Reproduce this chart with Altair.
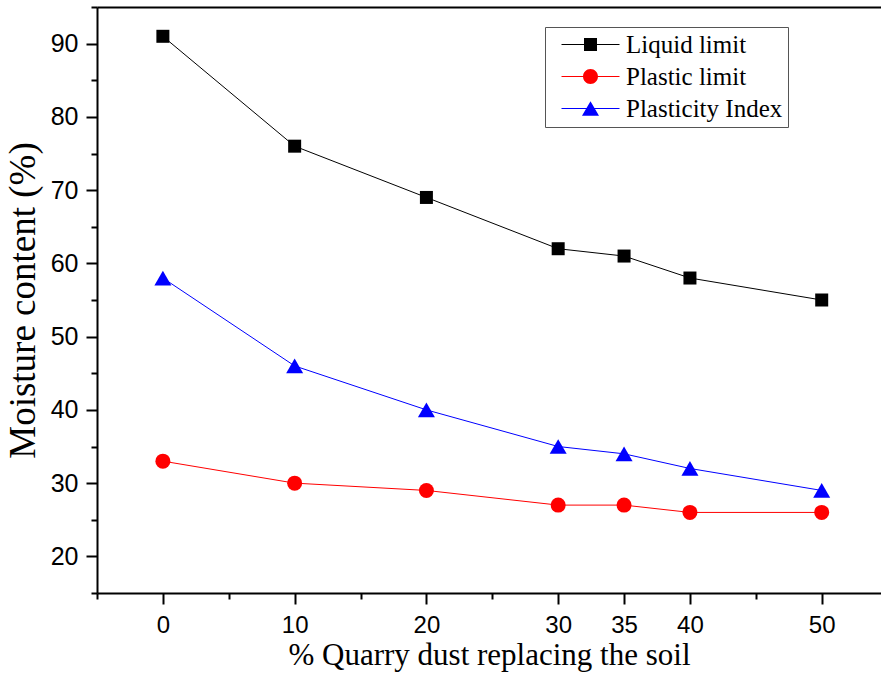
import altair as alt
import pandas as pd

# Percentage of quarry dust replacing the soil
dust = [0, 10, 20, 30, 35, 40, 50]

# Atterberg limits (%)
liquid_limit = [91, 76, 69, 62, 61, 58, 55]
plastic_limit = [33, 30, 29, 27, 27, 26, 26]
plasticity_index = [58, 46, 40, 35, 34, 32, 29]

series_names = ["Liquid limit", "Plastic limit", "Plasticity Index"]
series_colors = ["#000000", "#ff0000", "#0000ff"]
series_shapes = ["square", "circle", "triangle-up"]
series_sizes = [169, 225, 289]

x_labels = [0, 10, 20, 30, 35, 40, 50]
x_ticks = [-5, 0, 5, 10, 15, 20, 25, 30, 35, 40, 45, 50]
y_ticks = list(range(15, 100, 5))

rows = []
for name, vals in zip(series_names, [liquid_limit, plastic_limit, plasticity_index]):
    for d, v in zip(dust, vals):
        rows.append({"dust": d, "value": v, "series": name})
df = pd.DataFrame(rows)

SANS = "Liberation Sans"
SERIF = "Liberation Serif"

major_x = "indexof([" + ",".join(str(v) for v in x_labels) + "], datum.value) >= 0"

x_bottom = alt.Axis(
    orient="bottom",
    values=x_ticks,
    labelExpr=f"{major_x} ? datum.label : ''",
    tickSize={"condition": {"test": major_x, "value": 11}, "value": 6},
    tickWidth=2, tickColor="black",
    domainWidth=2, domainColor="black",
    labelFont=SANS, labelFontSize=24, labelColor="black", labelPadding=9,
    labelFlush=False, labelOverlap=False,
    title="% Quarry dust replacing the soil",
    titleFont=SERIF, titleFontSize=31, titleFontWeight="normal",
    titleColor="black", titlePadding=3,
    grid=False,
)
x_top = alt.Axis(
    orient="top", ticks=False, labels=False, title=None, grid=False,
    domainWidth=2, domainColor="black",
)
y_axis = alt.Axis(
    orient="left",
    values=y_ticks,
    labelExpr="datum.value % 10 === 0 ? datum.label : ''",
    tickSize={"condition": {"test": "datum.value % 10 === 0", "value": 11}, "value": 6},
    tickWidth=2, tickColor="black",
    domainWidth=2, domainColor="black",
    labelFont=SANS, labelFontSize=25, labelColor="black", labelPadding=8,
    labelFlush=False, labelOverlap=False,
    title="Moisture content (%)",
    titleFont=SERIF, titleFontSize=37, titleFontWeight="normal",
    titleColor="black", titlePadding=8,
    grid=False,
)

x_scale = alt.Scale(domain=[-5, 54.5], nice=False, zero=False)
y_scale = alt.Scale(domain=[15, 95], nice=False, zero=False)

base = alt.Chart(df)

layers = []
for i, (name, color, shape, size) in enumerate(
    zip(series_names, series_colors, series_shapes, series_sizes)
):
    subset = base.transform_filter(alt.datum.series == name)
    # connecting line; the first one carries the bottom axis
    layers.append(
        subset.mark_line(strokeWidth=1, color=color).encode(
            x=alt.X("dust:Q", scale=x_scale, axis=x_bottom if i == 0 else None),
            y=alt.Y("value:Q", scale=y_scale, axis=y_axis),
        )
    )
    # markers; the first one carries the top frame line
    layers.append(
        subset.mark_point(shape=shape, size=size, filled=True, opacity=1, color=color).encode(
            x=alt.X("dust:Q", scale=x_scale, axis=x_top if i == 0 else None),
            y=alt.Y("value:Q", scale=y_scale, axis=y_axis),
        )
    )

# Legend glyphs: a short line segment with the series marker in its middle
line_seg = "M-4.46,-0.08H4.46V0.08H-4.46Z"
legend_paths = [
    line_seg + "M-1,-1H1V1H-1Z",
    line_seg + "M-1.15,0A1.15,1.15,0,1,1,1.15,0A1.15,1.15,0,1,1,-1.15,0Z",
    line_seg + "M0,-1.13L1.31,1.13L-1.31,1.13Z",
]

legend_def = alt.Legend(
    title=None,
    orient="none", legendX=448, legendY=20,
    strokeColor="#555555", fillColor="white",
    padding=5, rowPadding=6,
    symbolSize=169, symbolOffset=28, symbolStrokeWidth=0,
    labelOffset=23, labelFont=SERIF, labelFontSize=25, labelColor="black",
    labelLimit=400,
)

legend_layer = (
    base.mark_point(filled=True, opacity=0, size=0)
    .encode(
        x=alt.X("dust:Q", scale=x_scale, axis=None),
        y=alt.Y("value:Q", scale=y_scale, axis=y_axis),
        color=alt.Color(
            "series:N",
            scale=alt.Scale(domain=series_names, range=series_colors),
            legend=legend_def,
        ),
        shape=alt.Shape(
            "series:N",
            scale=alt.Scale(domain=series_names, range=legend_paths),
            legend=legend_def,
        ),
    )
)
layers.append(legend_layer)

chart = (
    alt.layer(*layers)
    .properties(
        width=784, height=586,
        autosize=alt.AutoSizeParams(type="none"),
        padding={"left": 97, "top": 7, "right": 0, "bottom": 80},
        background="white",
    )
    .configure_view(stroke=None)
    .configure_legend(symbolOpacity=1)
)

chart.save("out.html", embed_options={"renderer": "svg", "actions": False})
